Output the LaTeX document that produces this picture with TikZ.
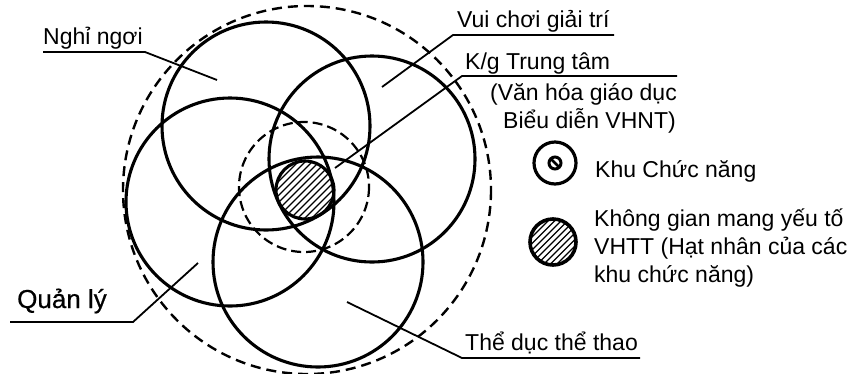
\documentclass[tikz,border=0pt]{standalone}
\usepackage{fontspec}
\setmainfont{Liberation Sans}
\newfontfamily\qlfont[FakeBold=0.6]{Liberation Sans}
\begin{document}
\begin{tikzpicture}[x=1pt,y=-1pt,
  zone/.style={line width=3.1pt},
  bound/.style={line width=2.4pt, dash pattern=on 10pt off 6pt},
  core/.style={line width=2.2pt, dash pattern=on 10pt off 5pt},
  leader/.style={line width=1.8pt},
  hatch/.style={line width=1.2pt},
  lbl/.style={anchor=base west, inner sep=0pt, font=\fontsize{23}{28}\selectfont},
  lblbig/.style={anchor=base west, inner sep=0pt, font=\qlfont\fontsize{26}{30}\selectfont}]
\useasboundingbox (0,0) rectangle (861,373);
% outer boundary
\draw[bound] (307,190) circle[radius=184];
% hatched core
\begin{scope}
  \clip (305,190) circle[radius=29];
  \foreach \k in {-8,...,8} \draw[hatch] (305+\k*7-45,235) -- ++(90,-90);
\end{scope}
\draw[zone] (305,190) circle[radius=29];
% inner dashed
\draw[core] (304,187) circle[radius=65];
% four zones
\draw[zone] (266,126) circle[radius=104];
\draw[zone] (372,159) circle[radius=103];
\draw[zone] (230,202) circle[radius=104];
\draw[zone] (318,262) circle[radius=105];
% labels
\node[lbl] (nghi) at (43,44) {Nghỉ ngơi};
\coordinate (nghiA) at (43,52);
\coordinate (nghiB) at (145,52);
\coordinate (nghiT) at (217,80);
\draw[leader] (nghiA) -- (nghiB) -- (nghiT);

\node[lbl] (vui) at (457,27) {Vui chơi giải trí};
\coordinate (vuiA) at (614,35);
\coordinate (vuiB) at (453,35);
\coordinate (vuiT) at (382,87);
\draw[leader] (vuiA) -- (vuiB) -- (vuiT);

\node[lbl] (kg) at (465,69) {K/g Trung tâm};
\node[lbl, anchor=base east] (kg2) at (677,100) {(Văn hóa giáo dục};
\node[lbl, anchor=base east] (kg3) at (676,128) {Biểu diễn VHNT)};
\coordinate (kgA) at (677,76);
\coordinate (kgB) at (462,76);
\coordinate (kgT) at (335,168);
\draw[leader] (kgA) -- (kgB) -- (kgT);

\node[lblbig] (ql) at (17,308) {Quản lý};
\coordinate (qlA) at (10,322);
\coordinate (qlB) at (133,322);
\coordinate (qlT) at (198,263);
\draw[leader] (qlA) -- (qlB) -- (qlT);

\node[lbl] (td) at (465,350) {Thể dục thể thao};
\coordinate (tdA) at (640,358);
\coordinate (tdB) at (462,358);
\coordinate (tdT) at (347,302);
\draw[leader] (tdA) -- (tdB) -- (tdT);

% legend
\draw[line width=3.2pt] (555,163) circle[radius=21];
\draw[line width=3pt] (555,163) circle[radius=6];
\draw[line width=2.6pt] (555,163) ++(-135:6) -- ++(45:12);
\node[lbl] (leg1) at (595,177) {Khu Chức năng};

\begin{scope}
  \clip (553,242) circle[radius=23];
  \foreach \k in {-7,...,7} \draw[hatch] (553+\k*6.5-35,277) -- ++(70,-70);
\end{scope}
\draw[line width=3.6pt] (553,242) circle[radius=23];
\node[lbl] (leg2) at (594,226) {Không gian mang yếu tố};
\node[lbl] (leg3) at (594,254) {VHTT (Hạt nhân của các};
\node[lbl] (leg4) at (594,282) {khu chức năng)};
\end{tikzpicture}
\end{document}
